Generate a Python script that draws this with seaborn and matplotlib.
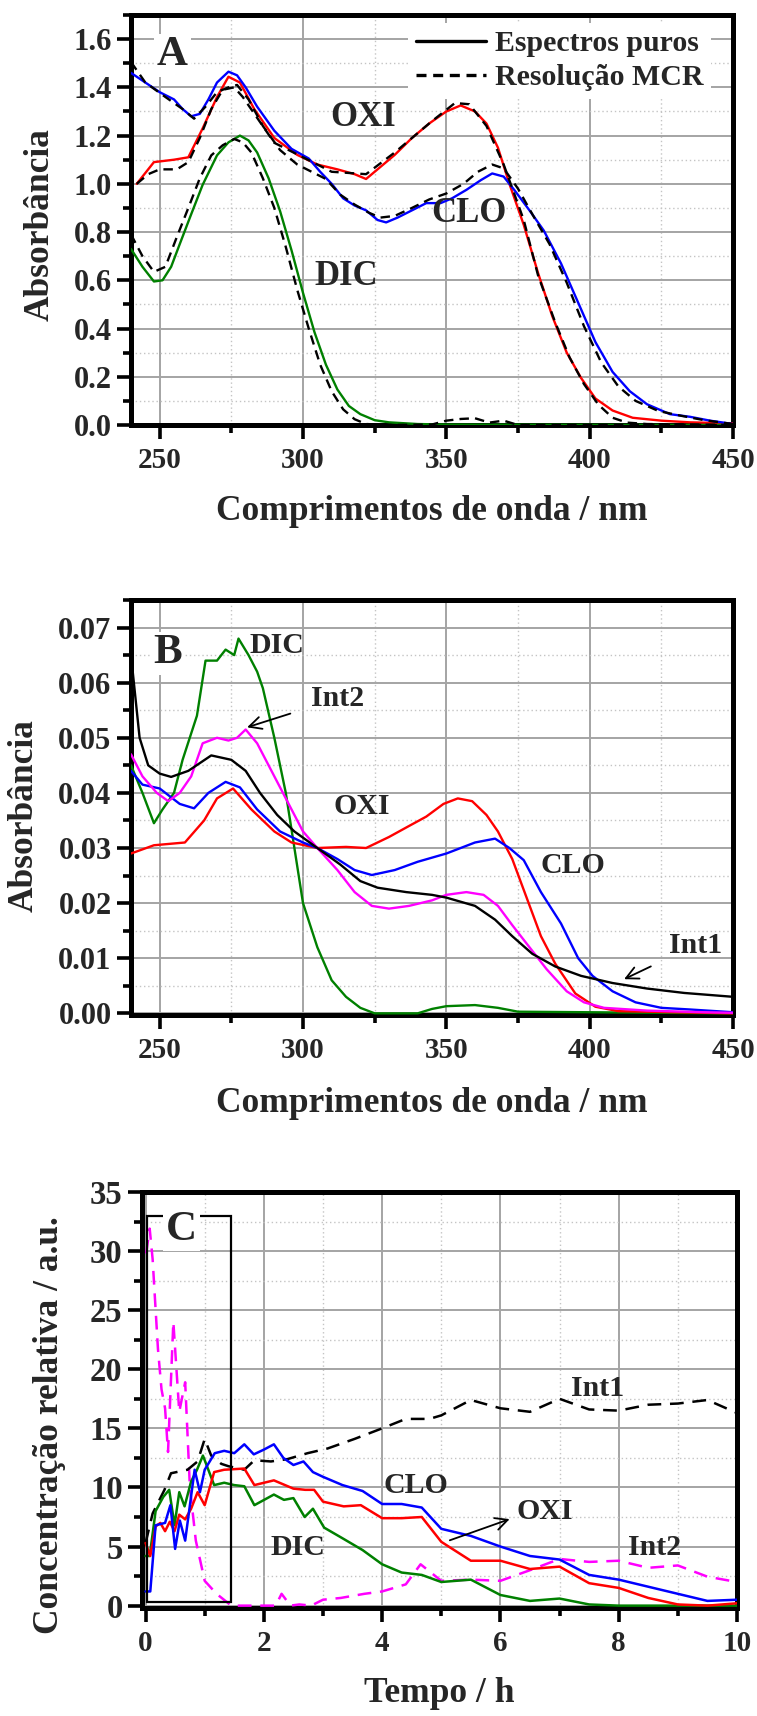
import numpy as np
import pandas as pd
import matplotlib
matplotlib.use("Agg")
import matplotlib.pyplot as plt
import seaborn as sns
from matplotlib.ticker import MultipleLocator, FormatStrFormatter
from matplotlib.patches import Rectangle
from matplotlib.lines import Line2D

# ---------------- Panel A data (wavelength nm, absorbance) ----------------
a_oxi_wl = [242, 248, 255, 260, 265, 270, 274, 278, 283, 290, 298, 305, 312, 318, 322, 326, 332, 338, 344, 350, 355, 360, 364, 368, 372, 377, 382, 387, 392, 397, 402, 408, 415, 425, 435, 450]
a_oxi_pure = [1.00, 1.09, 1.10, 1.11, 1.23, 1.36, 1.444, 1.42, 1.31, 1.19, 1.12, 1.08, 1.06, 1.04, 1.02, 1.06, 1.12, 1.19, 1.25, 1.30, 1.325, 1.30, 1.25, 1.15, 1.00, 0.83, 0.63, 0.45, 0.30, 0.195, 0.11, 0.06, 0.03, 0.018, 0.011, 0.007]
a_oxi_mcr_wl = [242, 246, 250, 256, 260, 264, 268, 272, 276, 279, 290, 300, 310, 322, 332, 345, 353, 358, 364, 370, 377, 382, 388, 393, 398, 403, 408, 413, 420, 450]
a_oxi_mcr = [1.00, 1.04, 1.06, 1.06, 1.09, 1.19, 1.31, 1.39, 1.40, 1.36, 1.17, 1.11, 1.05, 1.04, 1.13, 1.26, 1.335, 1.33, 1.24, 1.08, 0.85, 0.62, 0.425, 0.28, 0.17, 0.085, 0.03, 0.01, 0.004, 0.0]

a_clo_wl = [240, 245, 250, 255, 258, 261, 264, 267, 270, 274, 277, 280, 284, 290, 296, 302, 306, 310, 314, 318, 322, 326, 329, 333, 338, 343, 348, 352, 357, 362, 366, 370, 374, 379, 384, 390, 396, 402, 408, 414, 420, 428, 435, 442, 450]
a_clo_pure = [1.46, 1.42, 1.38, 1.35, 1.31, 1.28, 1.29, 1.35, 1.42, 1.465, 1.45, 1.40, 1.32, 1.22, 1.145, 1.105, 1.05, 1.00, 0.94, 0.91, 0.89, 0.85, 0.84, 0.86, 0.89, 0.92, 0.92, 0.94, 0.975, 1.015, 1.043, 1.03, 0.97, 0.89, 0.806, 0.67, 0.507, 0.344, 0.22, 0.14, 0.086, 0.045, 0.034, 0.018, 0.004]
a_clo_mcr_wl = [240, 245, 252, 258, 262, 266, 270, 274, 277, 281, 286, 292, 298, 303, 308, 313, 318, 323, 327, 332, 338, 344, 350, 356, 361, 366, 370, 375, 380, 386, 392, 398, 404, 410, 416, 424, 432, 440, 450]
a_clo_mcr = [1.505, 1.42, 1.36, 1.31, 1.27, 1.32, 1.38, 1.40, 1.41, 1.35, 1.24, 1.14, 1.08, 1.05, 1.02, 0.955, 0.914, 0.88, 0.86, 0.867, 0.90, 0.935, 0.96, 1.00, 1.05, 1.08, 1.064, 0.98, 0.874, 0.75, 0.59, 0.41, 0.26, 0.16, 0.10, 0.058, 0.038, 0.02, 0.004]

a_dic_wl = [240, 244, 248, 251, 254, 257, 261, 265, 270, 274, 278, 281, 284, 288, 292, 296, 300, 304, 308, 312, 316, 320, 325, 330, 340, 350, 400, 450]
a_dic_pure = [0.73, 0.656, 0.595, 0.60, 0.656, 0.75, 0.874, 0.996, 1.118, 1.172, 1.20, 1.18, 1.13, 1.023, 0.887, 0.724, 0.548, 0.385, 0.25, 0.147, 0.079, 0.045, 0.02, 0.011, 0.004, 0.002, 0.001, 0.0]
a_dic_mcr_wl = [240, 244, 248, 252, 256, 260, 264, 268, 272, 276, 279, 282, 286, 290, 294, 298, 302, 306, 310, 314, 318, 322, 330, 345, 350, 355, 360, 365, 370, 375, 450]
a_dic_mcr = [0.79, 0.70, 0.635, 0.656, 0.78, 0.90, 1.023, 1.118, 1.16, 1.186, 1.172, 1.13, 1.023, 0.90, 0.738, 0.56, 0.40, 0.25, 0.14, 0.065, 0.024, 0.004, 0.0, 0.002, 0.018, 0.025, 0.028, 0.01, 0.018, 0.0, 0.0]

# ---------------- Panel B data ----------------
b_int1_wl = [240, 243, 246, 250, 254, 260, 268, 275, 280, 285, 291, 297, 305, 313, 320, 326, 336, 345, 350, 360, 367, 373, 380, 388, 397, 408, 420, 433, 450]
b_int1 = [0.065, 0.050, 0.045, 0.0435, 0.0429, 0.044, 0.0468, 0.046, 0.044, 0.040, 0.036, 0.033, 0.030, 0.027, 0.024, 0.0228, 0.022, 0.0215, 0.021, 0.0195, 0.017, 0.014, 0.0108, 0.0085, 0.0068, 0.0055, 0.0045, 0.0037, 0.003]
b_int2_wl = [240, 244, 249, 253, 257, 261, 265, 270, 274, 277, 280, 284, 287, 291, 296, 300, 305, 312, 318, 324, 330, 337, 345, 350, 357, 363, 368, 373, 379, 385, 392, 398, 405, 420, 440, 450]
b_int2 = [0.047, 0.043, 0.040, 0.0385, 0.040, 0.043, 0.049, 0.050, 0.0495, 0.050, 0.0515, 0.049, 0.046, 0.042, 0.037, 0.033, 0.030, 0.026, 0.022, 0.0195, 0.019, 0.0195, 0.0205, 0.0215, 0.022, 0.0215, 0.0195, 0.016, 0.012, 0.008, 0.004, 0.002, 0.001, 0.0005, 0.0002, 0.0001]
b_dic_wl = [240, 244, 248, 251, 255, 258, 263, 266, 270, 273, 276, 277.5, 281, 284, 286, 290, 294, 297, 300, 305, 310, 315, 320, 325, 340, 345, 350, 360, 368, 375, 450]
b_dic = [0.045, 0.040, 0.0345, 0.037, 0.040, 0.046, 0.054, 0.064, 0.064, 0.066, 0.065, 0.068, 0.065, 0.062, 0.059, 0.050, 0.040, 0.030, 0.020, 0.012, 0.006, 0.003, 0.001, 0.0, 0.0, 0.0008, 0.0013, 0.0015, 0.001, 0.0003, 0.0]
b_oxi_wl = [240, 248, 258.8, 265.5, 270, 275.6, 282, 290, 296, 305, 315, 322, 330, 337, 343, 349, 354, 359, 364, 368, 373, 378, 383, 388, 395, 402, 410, 450]
b_oxi = [0.029, 0.0305, 0.031, 0.035, 0.039, 0.0408, 0.037, 0.033, 0.031, 0.030, 0.0302, 0.030, 0.032, 0.034, 0.0357, 0.038, 0.039, 0.0385, 0.036, 0.033, 0.028, 0.021, 0.014, 0.009, 0.0036, 0.0012, 0.0004, 0.0]
b_clo_wl = [240, 244, 250, 257, 262, 267, 273, 278, 284, 292, 300, 305, 312, 318, 324, 332, 340, 350, 360, 367, 372, 377, 383, 390, 396, 401, 408, 416, 425, 435, 450]
b_clo = [0.044, 0.0415, 0.0408, 0.038, 0.0372, 0.040, 0.042, 0.041, 0.037, 0.033, 0.031, 0.030, 0.028, 0.026, 0.0251, 0.026, 0.0275, 0.029, 0.031, 0.0317, 0.030, 0.0278, 0.022, 0.0163, 0.010, 0.0068, 0.004, 0.002, 0.001, 0.0007, 0.0002]

# ---------------- Panel C data (time h, relative concentration) ----------------
c_clo_t = [0.0, 0.08, 0.17, 0.25, 0.33, 0.42, 0.5, 0.58, 0.67, 0.75, 0.83, 0.92, 1.0, 1.17, 1.33, 1.5, 1.67, 1.83, 2.0, 2.17, 2.33, 2.5, 2.67, 2.83, 3.0, 3.33, 3.67, 4.0, 4.33, 4.67, 5.0, 5.5, 6.0, 6.5, 7.0, 7.5, 8.0, 8.5, 9.0, 9.5, 10.0]
c_clo = [1.2, 1.2, 6.8, 6.9, 7.0, 8.5, 4.8, 7.2, 5.5, 8.5, 11.5, 9.6, 11.5, 12.9, 13.1, 12.9, 13.65, 12.8, 13.2, 13.65, 12.5, 11.9, 12.2, 11.3, 10.9, 10.2, 9.7, 8.6, 8.6, 8.3, 6.5, 5.9, 5.0, 4.2, 3.9, 2.6, 2.2, 1.6, 1.0, 0.4, 0.5]
c_oxi_t = [0.0, 0.08, 0.17, 0.25, 0.33, 0.41, 0.49, 0.57, 0.67, 0.77, 0.88, 1.0, 1.16, 1.33, 1.67, 1.84, 2.17, 2.5, 2.7, 2.85, 3.0, 3.35, 3.64, 4.0, 4.33, 4.67, 5.0, 5.5, 6.0, 6.5, 7.0, 7.5, 8.0, 8.5, 9.0, 9.5, 10.0]
c_oxi = [5.3, 4.2, 6.7, 7.0, 6.3, 7.1, 6.3, 7.7, 7.3, 8.2, 9.6, 8.5, 11.3, 11.5, 11.6, 10.2, 10.6, 9.9, 9.8, 9.8, 8.8, 8.4, 8.5, 7.4, 7.4, 7.5, 5.4, 3.8, 3.8, 3.1, 3.3, 1.9, 1.5, 0.65, 0.1, 0.0, 0.2]
c_dic_t = [0.0, 0.07, 0.17, 0.3, 0.4, 0.49, 0.57, 0.66, 0.77, 0.87, 0.97, 1.16, 1.33, 1.5, 1.67, 1.84, 2.17, 2.34, 2.5, 2.69, 2.83, 3.02, 3.33, 3.67, 4.0, 4.33, 4.67, 5.0, 5.5, 6.0, 6.5, 7.0, 7.5, 8.0, 9.0, 10.0]
c_dic = [4.2, 4.2, 8.0, 9.2, 9.8, 6.8, 9.6, 8.4, 10.5, 11.5, 12.7, 10.2, 10.4, 10.2, 10.1, 8.5, 9.4, 8.95, 9.1, 7.5, 8.2, 6.6, 5.7, 4.7, 3.5, 2.8, 2.6, 2.0, 2.2, 0.9, 0.4, 0.6, 0.1, 0.0, 0.0, 0.0]
c_int1_t = [0.0, 0.12, 0.32, 0.43, 0.71, 0.88, 1.0, 1.11, 1.28, 1.4, 1.67, 1.84, 2.12, 2.4, 2.74, 3.08, 3.53, 4.0, 4.4, 4.8, 5.0, 5.5, 6.0, 6.5, 7.0, 7.5, 8.0, 8.5, 9.0, 9.5, 10.0]
c_int1 = [5.3, 7.8, 9.8, 11.2, 11.5, 12.2, 14.1, 12.7, 12.0, 11.8, 11.5, 12.3, 12.2, 12.4, 12.9, 13.3, 14.1, 15.0, 15.8, 15.8, 16.1, 17.4, 16.7, 16.4, 17.5, 16.6, 16.5, 17.0, 17.1, 17.4, 16.3]
c_int2_t = [0.01, 0.07, 0.12, 0.16, 0.21, 0.27, 0.33, 0.38, 0.47, 0.57, 0.67, 0.75, 0.85, 1.0, 1.2, 1.45, 2.0, 2.2, 2.3, 2.45, 2.6, 2.8, 3.0, 3.3, 3.7, 4.0, 4.4, 4.65, 5.0, 5.5, 6.0, 6.5, 7.0, 7.5, 8.0, 8.5, 9.0, 9.5, 10.0]
c_int2 = [29.8, 31.9, 29.3, 25.9, 21.7, 18.3, 16.7, 13.0, 24.0, 16.4, 18.9, 10.0, 5.5, 2.1, 1.0, 0.0, 0.0, 0.0, 1.0, 0.0, 0.1, 0.0, 0.5, 0.65, 1.0, 1.2, 1.8, 3.5, 2.1, 2.2, 2.1, 3.0, 3.95, 3.7, 3.8, 3.2, 3.4, 2.45, 2.0]

# ---------------- Styling ----------------
sns.set_style("white")
plt.rcParams['font.family'] = ['Liberation Serif', 'DejaVu Serif']
plt.rcParams['font.weight'] = 'bold'
plt.rcParams['axes.labelweight'] = 'bold'

RED, BLUE, GREEN, MAG, BLK = '#ff0000', '#0000ff', '#008000', '#ff00ff', '#000000'
LABEL_FS = 25.5

fig = plt.figure(figsize=(7.57, 17.16), dpi=100)
W, H = 757.0, 1716.0


def add_ax(left, right, top, bottom):
    return fig.add_axes([left / W, 1 - bottom / H, (right - left) / W, (bottom - top) / H])


def draw(ax, x, y, color, dash=None, lw=1.7, z=3):
    kw = dict(linestyle=(0, dash)) if dash else {}
    sns.lineplot(x=x, y=y, ax=ax, color=color, lw=lw, estimator=None, sort=False,
                 legend=False, zorder=z, **kw)


def style(ax, xmaj, xmin, ymaj, ymin, yfmt, xfs, yfs):
    ax.xaxis.set_major_locator(MultipleLocator(xmaj))
    ax.xaxis.set_minor_locator(MultipleLocator(xmin))
    ax.yaxis.set_major_locator(MultipleLocator(ymaj))
    ax.yaxis.set_minor_locator(MultipleLocator(ymin))
    ax.yaxis.set_major_formatter(FormatStrFormatter(yfmt))
    ax.grid(which='major', color='#a4a4a4', lw=1.4, ls='-')
    ax.grid(which='minor', color='#c4c4c4', lw=1.0, ls=(0, (1, 2)))
    ax.set_axisbelow(True)
    for sp in ax.spines.values():
        sp.set_visible(True)
        sp.set_linewidth(3.6)
        sp.set_color('black')
    ax.tick_params(which='major', direction='out', length=10, width=2.6,
                   left=True, bottom=True, top=False, right=False, color='black')
    ax.tick_params(which='minor', direction='out', length=6, width=2.6,
                   left=True, bottom=True, top=False, right=False, color='black')
    ax.tick_params(axis='x', which='major', labelsize=xfs, pad=6)
    ax.tick_params(axis='y', which='major', labelsize=yfs, pad=4)
    for lab in ax.get_xticklabels() + ax.get_yticklabels():
        lab.set_fontweight('bold')


def labels(ax, xl, yl, hpx, xlab_below, ylx, yly, yfs=LABEL_FS):
    ax.set_xlabel(xl, fontsize=LABEL_FS, fontweight='bold')
    ax.set_ylabel(yl, fontsize=yfs, fontweight='bold')
    ax.xaxis.set_label_coords(0.5, -xlab_below / hpx)
    ax.xaxis.label.set_verticalalignment('center')
    ax.yaxis.set_label_coords(ylx, yly)
    ax.yaxis.label.set_verticalalignment('center')


def txt(ax, x, y, s, fs):
    ax.text(x, y, s, fontsize=fs, fontweight='bold', ha='center', va='center', zorder=6)


def letter(ax, x, y, s):
    ax.text(x, y, s, fontsize=31, fontweight='bold', ha='center', va='center', zorder=6,
            bbox=dict(facecolor='white', edgecolor='none', pad=2))


# ---------------- Panel A ----------------
axA = add_ax(131, 733, 15, 425)
draw(axA, a_oxi_wl, a_oxi_pure, RED)
draw(axA, a_clo_wl, a_clo_pure, BLUE)
draw(axA, a_dic_wl, a_dic_pure, GREEN)
draw(axA, a_oxi_mcr_wl, a_oxi_mcr, BLK, dash=(4, 2.6), z=4)
draw(axA, a_clo_mcr_wl, a_clo_mcr, BLK, dash=(4, 2.6), z=4)
draw(axA, a_dic_mcr_wl, a_dic_mcr, BLK, dash=(4, 2.6), z=4)
axA.set_xlim(240, 450)
axA.set_ylim(0, 1.7)
style(axA, 50, 25, 0.2, 0.1, '%.1f', 21, 22)
labels(axA, 'Comprimentos de onda / nm', 'Absorbância', 410, 86, (40 - 131) / 602, 0.49)
letter(axA, 254.5, 1.533, 'A')
txt(axA, 321, 1.275, 'OXI', 25)
txt(axA, 358, 0.875, 'CLO', 25)
txt(axA, 315, 0.615, 'DIC', 25)
handles = [Line2D([], [], color='black', lw=2.4),
           Line2D([], [], color='black', lw=2.4, linestyle=(0, (3, 2.0)))]
leg = axA.legend(handles, ['Espectros puros', 'Resolução MCR'], loc='upper right',
                 bbox_to_anchor=((711 - 131) / 602, 1 - 8 / 410),
                 fontsize=21.5, frameon=True, handlelength=2.35, handletextpad=0.3,
                 borderaxespad=0.0, labelspacing=0.22, borderpad=0.25)
leg.get_frame().set_facecolor('white')
leg.get_frame().set_edgecolor('none')
leg.get_frame().set_alpha(1)
leg.get_frame().set_boxstyle('square', pad=0)
for t in leg.get_texts():
    t.set_fontweight('bold')

# ---------------- Panel B ----------------
axB = add_ax(131, 733, 600, 1015)
draw(axB, b_dic_wl, b_dic, GREEN)
draw(axB, b_oxi_wl, b_oxi, RED)
draw(axB, b_clo_wl, b_clo, BLUE)
draw(axB, b_int2_wl, b_int2, MAG)
draw(axB, b_int1_wl, b_int1, BLK)
axB.set_xlim(240, 450)
axB.set_ylim(-0.0003, 0.075)
style(axB, 50, 25, 0.01, 0.005, '%.2f', 21, 22)
labels(axB, 'Comprimentos de onda / nm', 'Absorbância', 415, 88, (24 - 131) / 602, 0.48)
letter(axB, 252.9, 0.0653, 'B')
txt(axB, 291, 0.0668, 'DIC', 21.5)
txt(axB, 320.6, 0.0375, 'OXI', 21.5)
txt(axB, 394, 0.0269, 'CLO', 21.5)
axB.annotate('Int2', xy=(280.5, 0.0519), xytext=(312, 0.0571), fontsize=21.5, fontweight='bold',
             ha='center', va='center', zorder=6,
             arrowprops=dict(arrowstyle='->', color='black', lw=1.3, shrinkA=13, shrinkB=0,
                             mutation_scale=22))
axB.annotate('Int1', xy=(412, 0.0062), xytext=(437, 0.0124), fontsize=21.5, fontweight='bold',
             ha='center', va='center', zorder=6,
             arrowprops=dict(arrowstyle='->', color='black', lw=1.3, shrinkA=12, shrinkB=0,
                             mutation_scale=22))

# ---------------- Panel C ----------------
axC = add_ax(142, 737, 1192, 1608)
draw(axC, c_int2_t, c_int2, MAG, dash=(5.5, 3.5), lw=1.8)
draw(axC, c_int1_t, c_int1, BLK, dash=(5.5, 3.5), lw=1.8)
draw(axC, c_dic_t, c_dic, GREEN, lw=1.8)
draw(axC, c_oxi_t, c_oxi, RED, lw=1.8)
draw(axC, c_clo_t, c_clo, BLUE, lw=1.8)
axC.set_xlim(-0.06, 10)
axC.set_ylim(-0.2, 35)
style(axC, 2, 1, 5, 2.5, '%d', 21, 23.5)
labels(axC, 'Tempo / h', 'Concentração relativa / a.u.', 416, 85, (50 - 142) / 595, 0.44)
axC.add_patch(Rectangle((0.02, 0.3), 1.43, 32.7, fill=False, edgecolor='black', lw=1.6, zorder=5))
letter(axC, 0.61, 31.8, 'C')
txt(axC, 7.65, 18.4, 'Int1', 21.5)
txt(axC, 4.57, 10.2, 'CLO', 21.5)
txt(axC, 2.58, 4.9, 'DIC', 21.5)
txt(axC, 8.6, 4.9, 'Int2', 21.5)
txt(axC, 6.75, 8.0, 'OXI', 21.5)
axC.annotate('', xy=(6.2, 7.4), xytext=(5.1, 5.45),
             arrowprops=dict(arrowstyle='->', color='black', lw=1.3, mutation_scale=22), zorder=6)

fig.savefig('out.png', dpi=100)
